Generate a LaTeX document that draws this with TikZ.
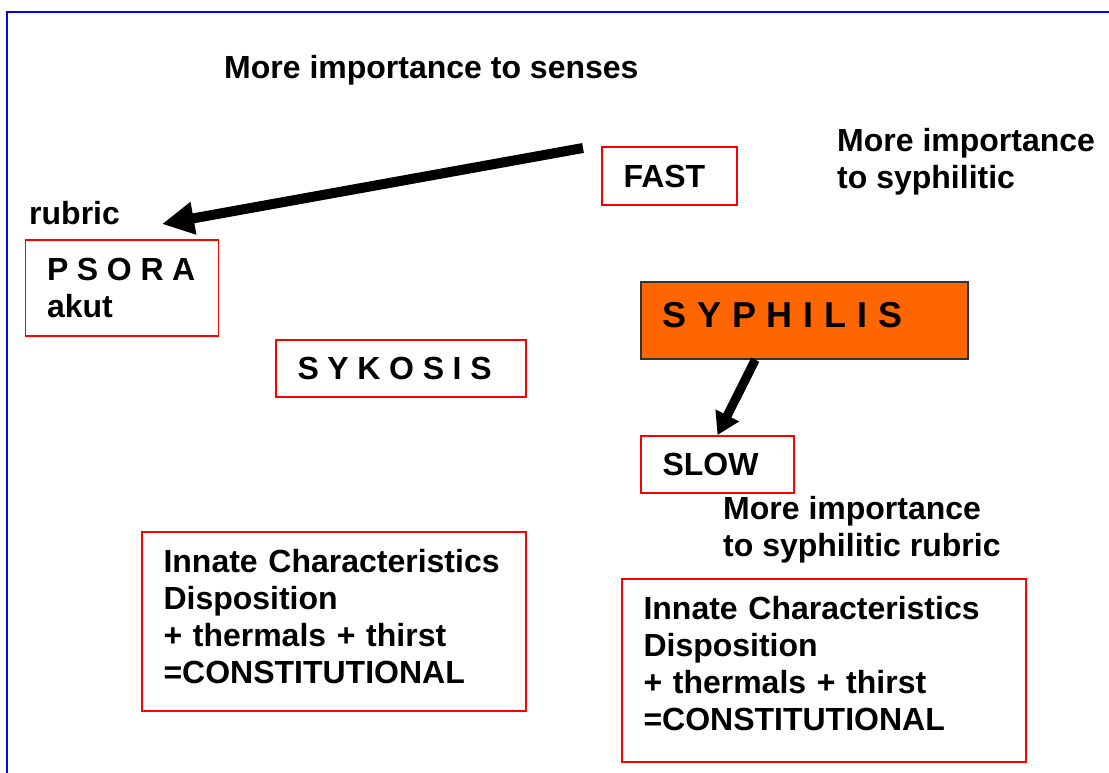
\documentclass[tikz,border=0pt]{standalone}
\usepackage{fontspec}
\setmainfont{Liberation Sans}
\usetikzlibrary{arrows.meta}
\definecolor{syphorange}{HTML}{FF6600}
\begin{document}
\begin{tikzpicture}[x=1pt,y=-1pt,>={Triangle[length=32pt,width=31pt]},
		txt/.style={font=\bfseries\fontsize{32}{37}\selectfont},
		note/.style={txt,inner sep=0pt,align=left,anchor=north west},
		redbox/.style={txt,draw=red,line width=1.8pt,inner xsep=21.5pt,align=left},
		spaced/.style={execute at begin node={\spaceskip=#1em\relax}},
		spaced/.default=.27,
		lift/.style={execute at end node={\rule[-#1]{0pt}{#1}}}]
				\useasboundingbox (0,0) rectangle (1109,773);
				\draw[blue,line width=2pt] (7,773)--(7,12.5)--(1109,12.5);
				\node[note] (senses) at (224,55) {More importance to senses};
				\node[note] (fastnote) at (837,128) {More importance\\to syphilitic};
				\node[note] (rubric) at (29,201) {rubric};
				\node[note] (slownote) at (723,496) {More importance\\to syphilitic rubric};
				\node[redbox,minimum width=135,minimum height=58,text width=92pt] (fast) at (669.5,176) {FAST};
				\node[redbox,spaced,minimum width=192,minimum height=96,text width=150pt] (psora) at (122,288) {P S O R A\\akut};
				\node[redbox,spaced,minimum width=250,minimum height=57,text width=207pt] (sykosis) at (401,368.5) {S Y K O S I S};
				\node[txt,spaced=.3,lift=11pt,draw=black!80,fill=syphorange,line width=1.5pt,inner xsep=21.5pt,align=left,minimum width=327,minimum height=77,text width=284pt,font=\bfseries\fontsize{36}{40}\selectfont] (syph) at (804.5,320.5) {S Y P H I L I S};
				\node[redbox,minimum width=153,minimum height=57,text width=110pt] (slow) at (717.5,464.5) {SLOW};
				\node[redbox,lift=11pt,minimum width=384,minimum height=179,text width=341pt] (consta) at (334,621.5) {Innate Characteristics\\Disposition\\+ thermals + thirst\\=CONSTITUTIONAL};
				\node[redbox,lift=15pt,minimum width=404,minimum height=183,text width=361pt] (constb) at (824,670.5) {Innate Characteristics\\Disposition\\+ thermals + thirst\\=CONSTITUTIONAL};
				\coordinate (fasttail) at (583,148);
				\coordinate (psoratip) at (162,224);
				\draw[->,line width=10pt] (fasttail)--(psoratip);
				\draw[-{Triangle[length=22pt,width=25pt]},line width=9pt] ([xshift=115pt]syph.south west)--(slow.north);
			\end{tikzpicture}
\end{document}
